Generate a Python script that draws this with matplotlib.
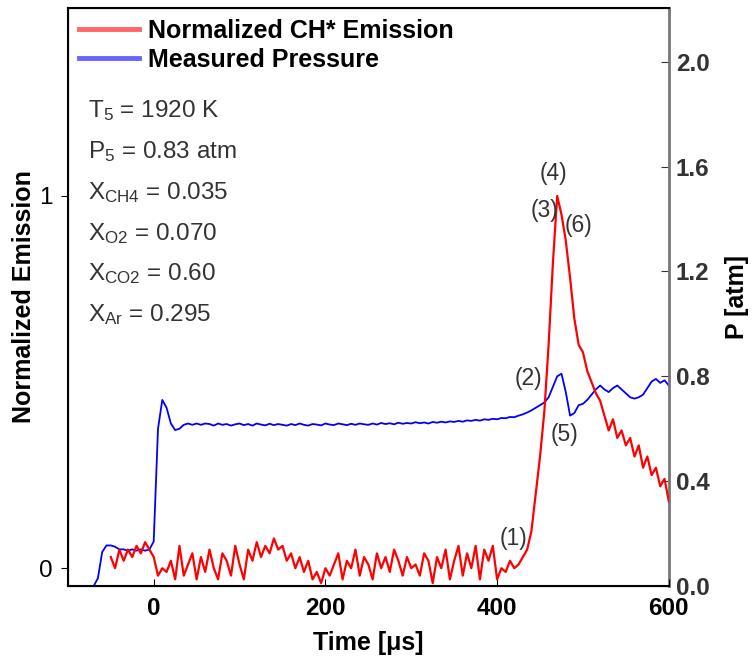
import numpy as np
import matplotlib
matplotlib.use("Agg")
import matplotlib.pyplot as plt

plt.rcParams['font.family'] = ['Liberation Sans', 'DejaVu Sans']
plt.rcParams['mathtext.fontset'] = 'custom'
plt.rcParams['mathtext.rm'] = 'Liberation Sans'
plt.rcParams['mathtext.it'] = 'Liberation Sans:italic'
plt.rcParams['mathtext.bf'] = 'Liberation Sans:bold'

# --- data ---
t_emis = np.arange(-50, 601, 5)
emission = [
    0.03, 0.0, 0.05, 0.02, 0.05, 0.03, 0.06, 0.04, 0.07, 0.05, 0.03,
    -0.02, 0.0, -0.01, 0.02, -0.03, 0.06, -0.02, 0.01, 0.04, -0.03,
    0.03, -0.01, 0.05, 0.0, -0.03, 0.04, 0.02, -0.02, 0.06, 0.01,
    -0.03, 0.05, 0.02, 0.07, 0.03, 0.06, 0.04, 0.08, 0.05, 0.06,
    0.02, 0.04, 0.0, 0.03, -0.01, 0.02, -0.03, -0.01, -0.04, 0.0,
    -0.02, 0.01, 0.04, -0.03, 0.02, 0.0, 0.05, -0.02, 0.03, 0.01,
    -0.03, 0.04, 0.0, 0.03, -0.01, 0.05, 0.02, -0.02, 0.03, 0.0,
    0.01, -0.02, 0.04, 0.02, -0.04, 0.03, 0.0, 0.05, -0.03, 0.02,
    0.06, -0.02, 0.04, 0.0, 0.06, -0.03, 0.05, 0.02, 0.06, -0.03,
    0.0, -0.01, 0.02, 0.0, 0.01, 0.03, 0.05, 0.1, 0.2, 0.3, 0.42, 0.6, 0.82, 1.0,
    0.95, 0.88, 0.78, 0.67, 0.6, 0.58, 0.53, 0.5, 0.47, 0.45, 0.41, 0.37, 0.4,
    0.35, 0.37, 0.33, 0.35, 0.3, 0.33, 0.27, 0.3, 0.25, 0.27, 0.22, 0.24, 0.18,
]

t_pres = np.arange(-100, 601, 5)
pressure = [
    0.0, 0.0, 0.0, 0.0, 0.0, 0.0, 0.0,
    0.03,
    0.13, 0.155, 0.155, 0.15, 0.14, 0.14, 0.135, 0.14, 0.135, 0.14, 0.135, 0.14,
    0.17,
    0.6, 0.71, 0.68, 0.62, 0.595, 0.6, 0.615, 0.62, 0.615, 0.62,
    0.615, 0.62, 0.618, 0.612, 0.62, 0.615, 0.618, 0.612, 0.617, 0.62,
    0.614, 0.618, 0.612, 0.62, 0.616, 0.613, 0.619, 0.614, 0.618, 0.615,
    0.612, 0.618, 0.614, 0.62, 0.615, 0.612, 0.618, 0.616, 0.613, 0.62,
    0.616, 0.614, 0.62, 0.617, 0.614, 0.619, 0.615, 0.62, 0.617, 0.615,
    0.62, 0.616, 0.622, 0.618, 0.621, 0.617, 0.623, 0.619, 0.622, 0.62,
    0.625, 0.621, 0.624, 0.62, 0.626, 0.623, 0.627, 0.624, 0.628, 0.626,
    0.63, 0.627, 0.632, 0.63, 0.634, 0.631, 0.636, 0.634, 0.638, 0.636,
    0.641, 0.64, 0.645, 0.644, 0.65, 0.655, 0.662, 0.67, 0.68, 0.69,
    0.7, 0.72, 0.76, 0.8, 0.81, 0.74, 0.65, 0.66, 0.69, 0.695,
    0.71, 0.73, 0.75, 0.765, 0.75, 0.74, 0.755, 0.765, 0.75, 0.735,
    0.72, 0.715, 0.72, 0.73, 0.755, 0.78, 0.79, 0.775, 0.785, 0.765,
]

conditions = [
    r'T$_5$ = 1920 K',
    r'P$_5$ = 0.83 atm',
    r'X$_{\mathrm{CH4}}$ = 0.035',
    r'X$_{\mathrm{O2}}$ = 0.070',
    r'X$_{\mathrm{CO2}}$ = 0.60',
    r'X$_{\mathrm{Ar}}$ = 0.295',
]

# point labels: (text, time, emission-axis y)
point_labels = [
    ('(1)', 419, 0.08),
    ('(2)', 437, 0.51),
    ('(3)', 455, 0.96),
    ('(4)', 466, 1.06),
    ('(5)', 479, 0.36),
    ('(6)', 495, 0.92),
]

fig = plt.figure(figsize=(7.54, 6.6), dpi=100)
ax = fig.add_axes([0.090, 0.112, 0.797, 0.876])
ax2 = ax.twinx()

l2, = ax2.plot(t_pres, pressure, color='#0000ff', lw=1.3)
l1, = ax.plot(t_emis, emission, color='#ff0000', lw=1.6)
ax.set_zorder(ax2.get_zorder() + 1)
ax.patch.set_visible(False)

ax.set_xlim(-100, 600)
ax.set_ylim(-0.048, 1.505)
ax2.set_ylim(0, 2.205)

ax.set_xticks([0, 200, 400, 600])
ax.set_yticks([0, 1])
ax2.set_yticks([0.0, 0.4, 0.8, 1.2, 1.6, 2.0])
ax2.set_yticklabels(['0.0', '0.4', '0.8', '1.2', '1.6', '2.0'])

ax.tick_params(axis='x', direction='in', length=5, labelsize=17.5, pad=8)
ax.tick_params(axis='y', direction='out', length=5, labelsize=17.5, pad=6)
ax2.tick_params(axis='y', direction='in', length=6, labelsize=17.5, colors='#333333', pad=5)
for lab in ax.get_xticklabels() + ax2.get_yticklabels():
    lab.set_fontweight('bold')

for s in ['left', 'top', 'bottom']:
    ax.spines[s].set_linewidth(1.5)
ax2.spines['right'].set_color('#777777')
ax2.spines['right'].set_linewidth(2)
ax.spines['right'].set_visible(False)

ax.set_xlabel('Time [μs]', fontsize=18, fontweight='bold', labelpad=8)
ax.set_ylabel('Normalized Emission', fontsize=18, fontweight='bold', labelpad=2)
ax2.set_ylabel('P [atm]', fontsize=18, fontweight='bold', labelpad=11)

leg = ax.legend([l1, l2], ['Normalized CH* Emission', 'Measured Pressure'],
                loc='upper left', frameon=False, handlelength=2.4,
                borderaxespad=0.25, borderpad=0.2, labelspacing=0.2,
                handletextpad=0.35, prop={'weight': 'bold', 'size': 18})
for h in leg.legend_handles:
    h.set_alpha(0.6)
    h.set_linewidth(3.5)

for i, txt in enumerate(conditions):
    ax.text(0.033, 0.822 - i * 0.0705, txt, transform=ax.transAxes,
            fontsize=17.5, color='#333333', va='center')

for txt, tx, ty in point_labels:
    ax.text(tx, ty, txt, fontsize=16.5, color='#333333', ha='center', va='center')

fig.savefig('out.png', dpi=100)
